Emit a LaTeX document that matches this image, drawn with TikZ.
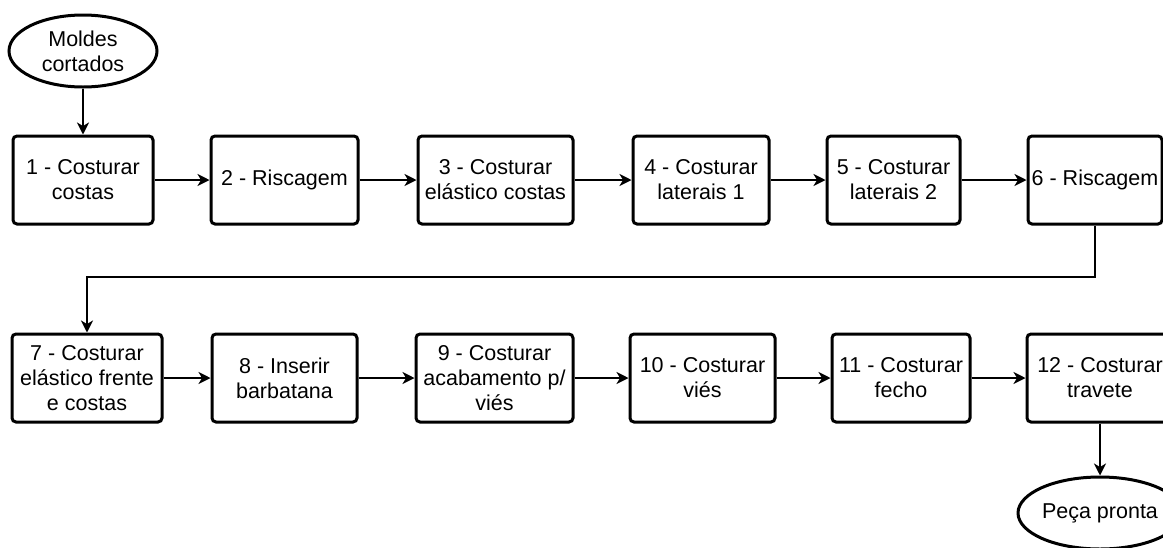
\documentclass[tikz,border=0pt]{standalone}
\usepackage{fontspec}
\setmainfont{Liberation Sans}
\usetikzlibrary{shapes.geometric,arrows.meta}

\begin{document}
\begin{tikzpicture}[x=1pt,y=-1pt,
  every node/.style={font=\fontsize{21.5}{25}\selectfont, text=black, align=center, inner sep=0pt},
  stepbox/.style={draw, line width=3pt, rounded corners=4pt, fill=white, minimum height=88pt},
  terminal/.style={draw, ellipse, line width=3pt, fill=white, minimum width=148pt, minimum height=72pt},
  flow/.style={draw, line width=2pt, -{Stealth[length=12pt,width=12pt,inset=3.5pt]}}
]
\useasboundingbox (0,0) rectangle (1163,547);

% start
\node[terminal] (start) at (83,51) {Moldes\\cortados};

% first row of operations
\node[stepbox, minimum width=140pt] (s1) at (83,180)    {1 - Costurar\\costas};
\node[stepbox, minimum width=147pt] (s2) at (284.5,180) {2 - Riscagem};
\node[stepbox, minimum width=155pt] (s3) at (495.5,180) {3 - Costurar\\elástico costas};
\node[stepbox, minimum width=136pt] (s4) at (701,180)   {4 - Costurar\\laterais 1};
\node[stepbox, minimum width=133pt] (s5) at (893.5,180) {5 - Costurar\\laterais 2};
\node[stepbox, minimum width=134pt] (s6) at (1095,180)  {6 - Riscagem};

% second row of operations
\node[stepbox, minimum width=150pt] (s7)  at (87,378)    {7 - Costurar\\elástico frente\\e costas};
\node[stepbox, minimum width=145pt] (s8)  at (284.5,378) {8 - Inserir\\barbatana};
\node[stepbox, minimum width=157pt] (s9)  at (494.5,378) {9 - Costurar\\acabamento p/\\viés};
\node[stepbox, minimum width=145pt] (s10) at (702.5,378) {10 - Costurar\\viés};
\node[stepbox, minimum width=138pt] (s11) at (901,378)   {11 - Costurar\\fecho};
\node[stepbox, minimum width=146pt] (s12) at (1100,378)  {12 - Costurar\\travete};

% end
\node[terminal, minimum width=140pt] (done) at (1100,513) {Peça pronta};

% connectors
\draw[flow] (start) -- (s1);
\draw[flow] (s1) -- (s2);
\draw[flow] (s2) -- (s3);
\draw[flow] (s3) -- (s4);
\draw[flow] (s4) -- (s5);
\draw[flow] (s5) -- (s6);
\draw[flow] (s6.south) -- ++(0,51) -| (s7.north);
\draw[flow] (s7) -- (s8);
\draw[flow] (s8) -- (s9);
\draw[flow] (s9) -- (s10);
\draw[flow] (s10) -- (s11);
\draw[flow] (s11) -- (s12);
\draw[flow] (s12) -- (done);
\end{tikzpicture}
\end{document}
